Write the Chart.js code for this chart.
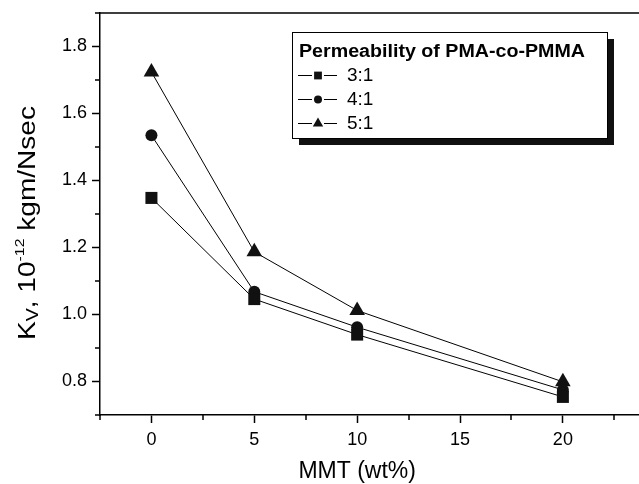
<!DOCTYPE html>
<html>
<head>
<meta charset="utf-8">
<script src="https://cdn.jsdelivr.net/npm/chart.js@4/dist/chart.umd.min.js"></script>
<style>
body { margin: 0; background: #fff; }
#chart_box { width: 639px; height: 484px; }
</style>
</head>
<body>
<div id="chart_box"><canvas id="chart" width="639" height="484"></canvas></div>
<script>
// values
var mmt = [0, 5, 10, 20];
var ratio_3_1 = [1.348, 1.046, 0.940, 0.754];
var ratio_4_1 = [1.535, 1.068, 0.962, 0.775];
var ratio_5_1 = [1.724, 1.187, 1.012, 0.799];
var series_labels = ["3:1", "4:1", "5:1"];
var series_styles = ["rect", "circle", "triangle"];

var x_ticks = [0, 5, 10, 15, 20];
var x_minor = [-2.5, 2.5, 7.5, 12.5, 17.5, 22.5];
var y_ticks = [0.8, 1.0, 1.2, 1.4, 1.6, 1.8];
var y_minor = [0.7, 0.9, 1.1, 1.3, 1.5, 1.7, 1.9];

var legend_title = "Permeability of PMA-co-PMMA";
var x_title = "MMT (wt%)";

var FONT = "'Liberation Sans', Arial, sans-serif";

function Make_Points( xs, ys ) {
    var pts = [];
    for ( var i=0; i<xs.length; i++ ) {
        pts.push({ x: xs[i], y: ys[i] });
    }
    return pts;
}

function Make_Dataset( label, values, style, radius ) {
    return {
        label: label,
        data: Make_Points(mmt, values),
        borderColor: "#000",
        borderWidth: 1,
        backgroundColor: "#111",
        pointStyle: style,
        pointRadius: radius,
        pointBackgroundColor: "#111",
        pointBorderWidth: 0,
        tension: 0,
        fill: false
    };
}

function Draw_Marker( ctx, style, x, y, r ) {
    ctx.beginPath();
    if ( style == "rect" ) {
        var s = r * Math.SQRT1_2;
        ctx.rect(x - s, y - s, 2 * s, 2 * s);
    } else if ( style == "circle" ) {
        ctx.arc(x, y, r, 0, Math.PI * 2);
    } else {
        ctx.moveTo(x, y - r);
        ctx.lineTo(x + 0.866 * r, y + 0.5 * r);
        ctx.lineTo(x - 0.866 * r, y + 0.5 * r);
        ctx.closePath();
    }
    ctx.fillStyle = "#111";
    ctx.fill();
}

// y title has a subscript and a superscript, so it is drawn piece by piece
function Draw_Y_Title( ctx, cx, cy ) {
    var parts = [
        { text: "K", size: 23, shift: 0 },
        { text: "V", size: 16, shift: 3 },
        { text: ", 10", size: 23, shift: 0 },
        { text: "-12", size: 13, shift: -11 },
        { text: " kgm/Nsec", size: 23, shift: 0 }
    ];
    var total = 0;
    for ( var i=0; i<parts.length; i++ ) {
        ctx.font = parts[i].size + "px " + FONT;
        parts[i].w = ctx.measureText(parts[i].text).width;
        total += parts[i].w;
    }
    ctx.save();
    ctx.translate(cx, cy);
    ctx.rotate(-Math.PI / 2);
    // the original lettering is stretched along the axis
    ctx.scale(1.22, 1);
    ctx.fillStyle = "#000";
    ctx.textBaseline = "alphabetic";
    ctx.textAlign = "left";
    var pos = -total / 2;
    for ( var i=0; i<parts.length; i++ ) {
        ctx.font = parts[i].size + "px " + FONT;
        ctx.fillText(parts[i].text, pos, 8 + parts[i].shift);
        pos += parts[i].w;
    }
    ctx.restore();
}

function Draw_Legend( ctx ) {
    var bx = 292, by = 32, bw = 315, bh = 106;
    ctx.fillStyle = "#111";
    ctx.fillRect(bx + 7, by + 7, bw, bh);
    ctx.fillStyle = "#fff";
    ctx.fillRect(bx, by, bw, bh);
    ctx.strokeStyle = "#000";
    ctx.lineWidth = 1;
    ctx.strokeRect(bx + 0.5, by + 0.5, bw, bh);

    ctx.fillStyle = "#000";
    ctx.textAlign = "left";
    ctx.textBaseline = "alphabetic";
    ctx.font = "bold 18px " + FONT;
    var tw = ctx.measureText(legend_title).width;
    ctx.save();
    ctx.translate(299, 57);
    ctx.scale(286 / tw, 1);
    ctx.fillText(legend_title, 0, 0);
    ctx.restore();

    var rows = [75, 99, 123];
    var sizes = [5.5, 4, 6];
    ctx.font = "19px " + FONT;
    ctx.textBaseline = "middle";
    for ( var i=0; i<series_labels.length; i++ ) {
        var y = rows[i];
        ctx.strokeStyle = "#000";
        ctx.lineWidth = 1;
        ctx.beginPath();
        ctx.moveTo(298, y + 0.5);
        ctx.lineTo(312, y + 0.5);
        ctx.moveTo(324, y + 0.5);
        ctx.lineTo(337, y + 0.5);
        ctx.stroke();
        Draw_Marker(ctx, series_styles[i], 318, y + 0.5, sizes[i]);
        ctx.fillStyle = "#000";
        ctx.fillText(series_labels[i], 347, y + 1);
    }
}

var frame_plugin = {
    id: "frame",
    afterDraw: function(chart) {
        var ctx = chart.ctx;
        var area = chart.chartArea;
        var xs = chart.scales.x;
        var ys = chart.scales.y;

        ctx.save();
        ctx.strokeStyle = "#000";
        ctx.lineWidth = 1.5;
        ctx.beginPath();
        ctx.moveTo(area.left - 4, area.top);
        ctx.lineTo(area.right, area.top);
        // minor ticks
        for ( var i=0; i<x_minor.length; i++ ) {
            var px = Math.round(xs.getPixelForValue(x_minor[i]));
            ctx.moveTo(px, area.bottom);
            ctx.lineTo(px, area.bottom + 5);
        }
        for ( var i=0; i<y_minor.length; i++ ) {
            var py = Math.round(ys.getPixelForValue(y_minor[i]));
            ctx.moveTo(area.left, py);
            ctx.lineTo(area.left - 5, py);
        }
        ctx.stroke();

        Draw_Y_Title(ctx, 27, 223);

        ctx.fillStyle = "#000";
        ctx.font = "23px " + FONT;
        ctx.textAlign = "center";
        ctx.textBaseline = "middle";
        ctx.fillText(x_title, xs.getPixelForValue(10), 472);

        Draw_Legend(ctx);
        ctx.restore();
    }
};

function No_Padding( axis ) {
    axis.paddingLeft = 0;
    axis.paddingRight = 0;
    axis.paddingTop = 0;
    axis.paddingBottom = 0;
}

var config = {
    type: "line",
    data: {
        datasets: [
            Make_Dataset(series_labels[0], ratio_3_1, series_styles[0], 8.5),
            Make_Dataset(series_labels[1], ratio_4_1, series_styles[1], 6),
            Make_Dataset(series_labels[2], ratio_5_1, series_styles[2], 9)
        ]
    },
    options: {
        responsive: false,
        animation: false,
        devicePixelRatio: 1,
        layout: { autoPadding: false, padding: { top: 13, right: 0, bottom: 0, left: 0 } },
        plugins: {
            legend: { display: false },
            tooltip: { enabled: false }
        },
        scales: {
            x: {
                type: "linear",
                min: -2.5,
                max: 23.7,
                afterBuildTicks: function(axis) {
                    axis.ticks = x_ticks.map(function(v) { return { value: v }; });
                },
                afterFit: function(axis) { axis.height = 69; No_Padding(axis); },
                grid: { drawOnChartArea: false, drawTicks: true, tickLength: 8, tickWidth: 1.5, tickColor: "#000" },
                border: { display: true, color: "#000", width: 1.5 },
                ticks: { color: "#000", padding: 6, maxRotation: 0, font: { family: FONT, size: 18 } }
            },
            y: {
                type: "linear",
                min: 0.7,
                max: 1.9,
                afterBuildTicks: function(axis) {
                    axis.ticks = y_ticks.map(function(v) { return { value: v }; });
                },
                afterFit: function(axis) { axis.width = 100; No_Padding(axis); },
                grid: { drawOnChartArea: false, drawTicks: true, tickLength: 8, tickWidth: 1.5, tickColor: "#000" },
                border: { display: true, color: "#000", width: 1.5 },
                ticks: {
                    color: "#000", padding: 5, font: { family: FONT, size: 18 },
                    callback: function(v) { return v.toFixed(1); }
                }
            }
        }
    },
    plugins: [frame_plugin]
};

window.onload = function() {
    var ctx = document.getElementById("chart").getContext("2d");
    new Chart(ctx, config);
};
</script>
</body>
</html>
